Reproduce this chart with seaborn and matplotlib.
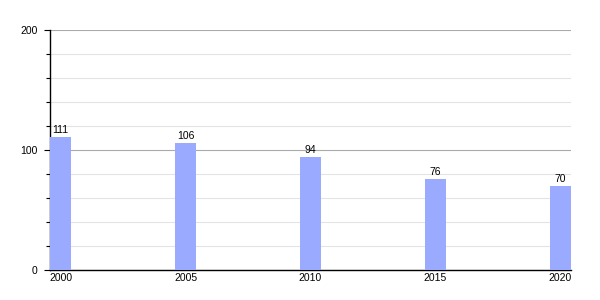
import matplotlib
matplotlib.use("Agg")
import matplotlib.pyplot as plt
import seaborn as sns
import pandas as pd
from matplotlib.ticker import MultipleLocator

years = ["2000", "2005", "2010", "2015", "2020"]
values = [111, 106, 94, 76, 70]

sns.set_theme(style="white")
plt.rcParams['font.family'] = ['Liberation Sans', 'DejaVu Sans']
plt.rcParams['text.color'] = 'black'
plt.rcParams['xtick.color'] = 'black'
plt.rcParams['ytick.color'] = 'black'

df = pd.DataFrame({"year": years, "value": values})

fig = plt.figure(figsize=(6, 3), dpi=100)
ax = fig.add_axes([50/600, 30/300, 521/600, 240/300])
w = 0.168
sns.barplot(data=df, x="year", y="value", color="#99aaff", saturation=1,
            width=w, ax=ax, zorder=3, linewidth=0, edgecolor="none")
ax.set_xlim(-w/2, 4 + w/2)
ax.set_ylim(0, 200)
ax.yaxis.set_major_locator(MultipleLocator(100))
ax.yaxis.set_minor_locator(MultipleLocator(20))
ax.grid(which="major", axis="y", color="#aaaaaa", linewidth=0.8, zorder=0)
ax.grid(which="minor", axis="y", color="#e3e3e3", linewidth=0.8, zorder=0)
ax.set_axisbelow(True)
for s in ["top", "right"]:
    ax.spines[s].set_visible(False)
for s in ["left", "bottom"]:
    ax.spines[s].set_color("black")
    ax.spines[s].set_linewidth(1)
ax.tick_params(axis="y", which="major", length=4, width=0.8, color="black",
               labelsize=7.5, pad=5, left=True, labelcolor="black")
ax.tick_params(axis="y", which="minor", length=3, width=0.8, color="black", left=True)
ax.tick_params(axis="x", length=0, labelsize=7.5, pad=2, labelcolor="black")
ax.set_xlabel("")
ax.set_ylabel("")
for i, v in enumerate(values):
    ax.text(i, v + 1.5, str(v), ha="center", va="bottom", fontsize=7.5, color="black")
fig.savefig("out.png", dpi=100)
